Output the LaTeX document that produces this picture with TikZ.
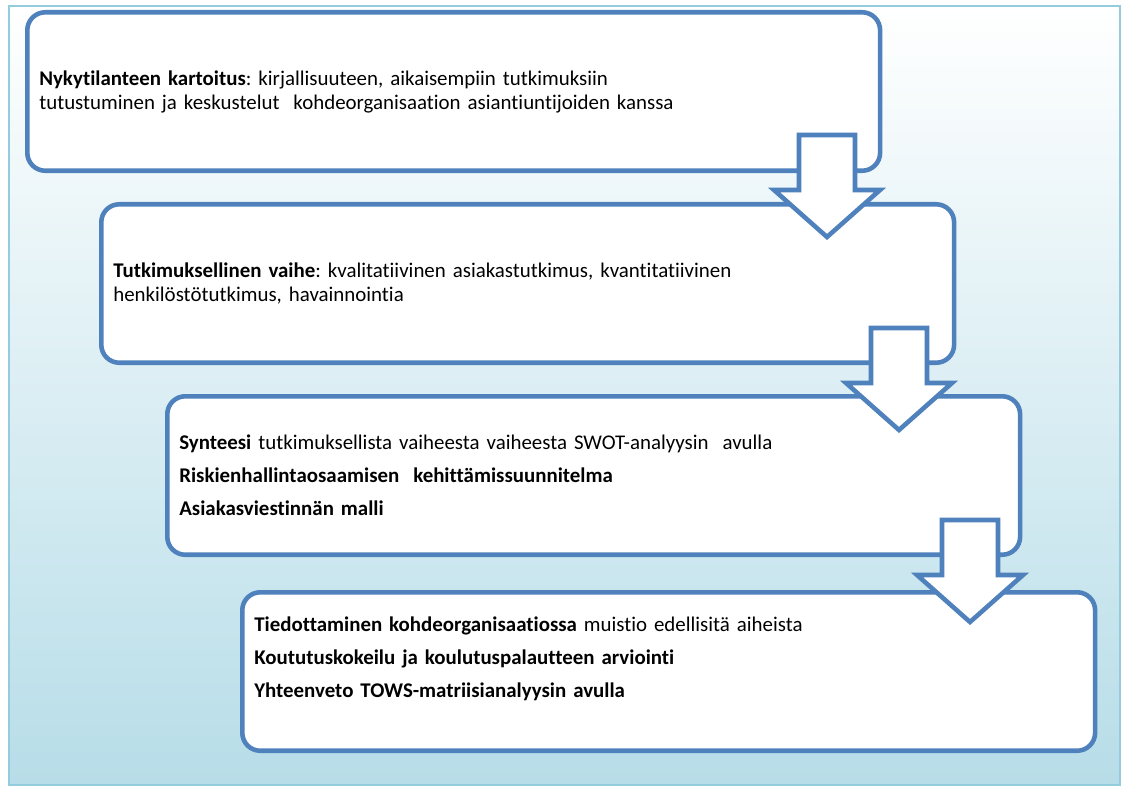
\documentclass[tikz,border=0pt]{standalone}
\usepackage{fontspec}
\setmainfont{Carlito}[Ligatures=NoCommon]
\usetikzlibrary{positioning}
\definecolor{phaseblue}{HTML}{4F81BD}
\definecolor{bgline}{HTML}{93CDDD}
\definecolor{bgbottom}{HTML}{B7DDE8}
\frenchspacing

\begin{document}
\begin{tikzpicture}[x=0.02cm, y=-0.02cm,
  every node/.style={font=\fontsize{11.9}{13.6}\selectfont},
  phase/.style={draw=phaseblue, line width=2.6pt, rounded corners=0.36cm, fill=white, anchor=north west, minimum width=17.06cm, minimum height=3.17cm, text width=16.58cm, inner xsep=0.24cm, align=left},
  blockarrow/.style={draw=phaseblue, line width=2.6pt, fill=white, line join=miter}]
\useasboundingbox (0,0) rectangle (1122,787);
\shade[top color=white, bottom color=bgbottom] (9,6) rectangle (1120,785);
\draw[bgline, line width=1.5pt] (9,6) rectangle (1120,785);

\node[phase] (kartoitus) at (25,10) {\textbf{Nykytilanteen kartoitus}: kirjallisuuteen, aikaisempiin tutkimuksiin\\ tutustuminen ja keskustelut\ \ kohdeorganisaation asiantiuntijoiden kanssa};
\node[phase] (tutkimus) at (99,202) {\textbf{Tutkimuksellinen vaihe}: kvalitatiivinen asiakastutkimus, kvantitatiivinen\\ henkilöstötutkimus, havainnointia};
\node[phase] (synteesi) at (165,394) {\textbf{Synteesi} tutkimuksellista vaiheesta vaiheesta SWOT-analyysin\ \ avulla\\[5.1pt]
  \textbf{Riskienhallintaosaamisen\ \ kehittämissuunnitelma}\\[5.1pt]
  \textbf{Asiakasviestinnän malli}};
\node[phase, text depth=1.89cm] (tiedotus) at (240,590) {\textbf{Tiedottaminen kohdeorganisaatiossa} muistio edellisitä aiheista\\[5.1pt]
  \textbf{Koututuskokeilu ja koulutuspalautteen arviointi}\\[5.1pt]
  \textbf{Yhteenveto TOWS-matriisianalyysin avulla}};

% block arrows between the phases
\coordinate (a1) at (827,135);
\coordinate (a2) at (899,328);
\coordinate (a3) at (970,520);
\foreach \a in {a1,a2,a3}
  \draw[blockarrow] (\a) ++(-28,0) -- ++(56,0) -- ++(0,55) -- ++(25,0) -- ++(-53,47) -- ++(-53,-47) -- ++(25,0) -- cycle;
\end{tikzpicture}
\end{document}
